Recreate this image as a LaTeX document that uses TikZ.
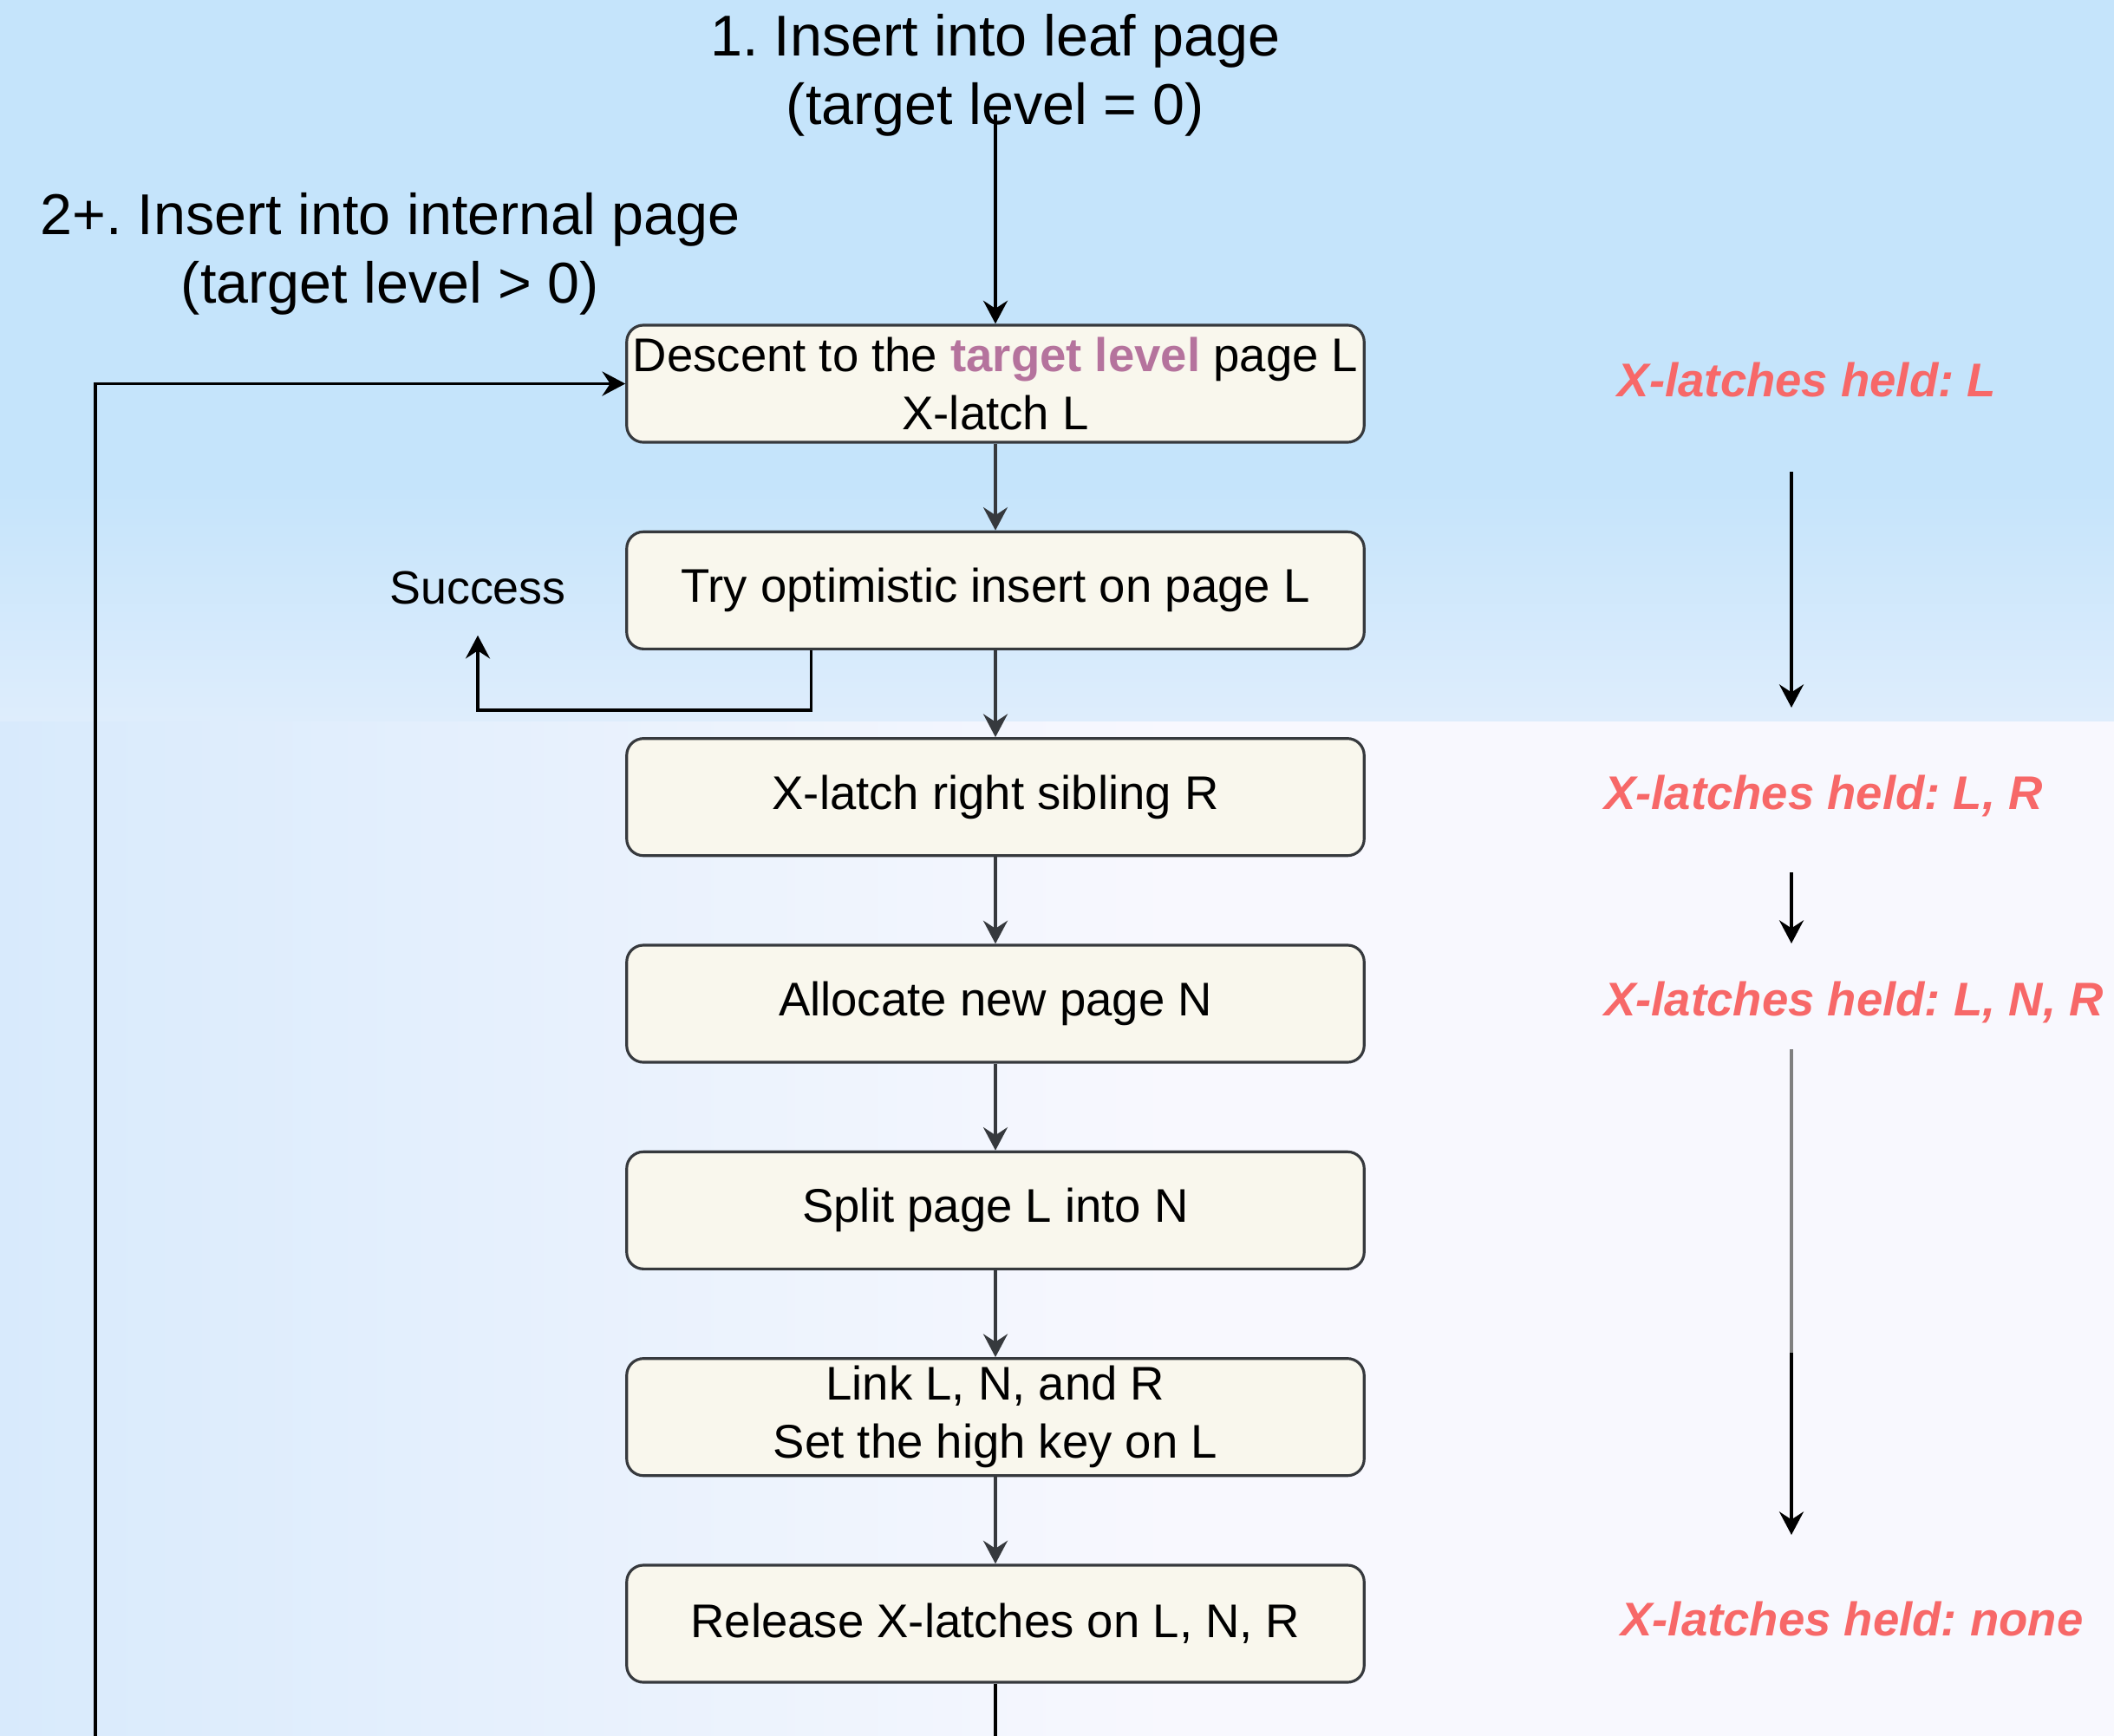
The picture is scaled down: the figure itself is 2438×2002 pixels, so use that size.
\documentclass[tikz,border=0pt]{standalone}
\usepackage{fontspec}
\setmainfont{Liberation Sans}
\usetikzlibrary{arrows.meta,calc}
\frenchspacing

\definecolor{bgblue}{RGB}{197,228,251}
\definecolor{bgfade}{RGB}{222,237,252}
\definecolor{bgleft}{RGB}{216,234,252}
\definecolor{bgpale}{RGB}{248,248,254}
\definecolor{boxfill}{HTML}{F9F7ED}
\definecolor{boxline}{HTML}{36393D}
\definecolor{latchred}{HTML}{F76868}
\definecolor{levelpurple}{HTML}{B5739D}

\begin{document}
\begin{tikzpicture}[x=0.01cm, y=-0.01cm,
  stepbox/.style={draw=boxline, line width=0.9pt, fill=boxfill,
    rounded corners=5.5pt, minimum width=8.5cm, minimum height=1.35cm,
    inner sep=0pt, align=center, font=\fontsize{15.5}{19}\selectfont},
  heading/.style={align=center, inner sep=0pt,
    font=\fontsize{18.9}{22.4}\selectfont},
  plain/.style={inner sep=0pt, font=\fontsize{15.3}{19}\selectfont},
  latch/.style={inner sep=0pt, text=latchred,
    font=\fontsize{15.5}{19}\selectfont\bfseries\itshape},
  tip/.style={-{Stealth[length=7.6pt, width=8pt, inset=2.6pt]}},
  flow/.style={tip, draw=boxline, line width=0.9pt},
  wire/.style={tip, draw=black, line width=0.9pt},
]
% page background
\useasboundingbox (0,0) rectangle (2438,2002);
\fill[bgpale] (0,0) rectangle (2438,2002);
\shade[left color=bgleft, right color=bgpale] (0,830) rectangle (1350,2002);
\fill[bgblue] (0,0) rectangle (2438,560);
\shade[top color=bgblue, bottom color=bgfade] (0,559) rectangle (2438,831);

% entry points
\node[heading] (leaf) at (1148,87) {1. Insert into leaf page\\(target level = 0)};
\node[heading] (internal) at (450,293) {2+. Insert into internal page\\(target level > 0)};

% split steps
\node[stepbox] (b1) at (1148,442.5) {Descent to the \textcolor{levelpurple}{\bfseries target level} page L\\X-latch L};
\node[stepbox] (b2) at (1148,680.8) {Try optimistic insert on page L};
\node[stepbox] (b3) at (1148,919.2) {X-latch right sibling R};
\node[stepbox] (b4) at (1148,1157.5) {Allocate new page N};
\node[stepbox] (b5) at (1148,1395.8) {Split page L into N};
\node[stepbox] (b6) at (1148,1634.2) {Link L, N, and R\\Set the high key on L};
\node[stepbox] (b7) at (1148,1872.5) {Release X-latches on L, N, R};

\node[plain] (succ) at (551,678) {Success};

% latches held along the way
\node[latch] (hL) at (2084,438) {X-latches held: L};
\node[latch] (hLR) at (2103,918) {X-latches held: L, R};
\node[latch] (hLNR) at (2138,1156) {X-latches held: L, N, R};
\node[latch] (hnone) at (2136,1867) {X-latches held: none};

% main flow
\coordinate (entry) at (1148,132);
\draw[wire] (entry) -- (b1.north);
\draw[flow] (b1) -- (b2);
\draw[flow] (b2) -- (b3);
\draw[flow] (b3) -- (b4);
\draw[flow] (b4) -- (b5);
\draw[flow] (b5) -- (b6);
\draw[flow] (b6) -- (b7);
\coordinate (exitfoot) at (1148,2002);
\draw[draw=black, line width=0.9pt] (b7.south) -- (exitfoot);

% early exit on a successful optimistic insert
\draw[wire] ([xshift=-2.12cm]b2.south) -- ++(0,69) -| ($(succ.south)+(0,35)$);

% retry one level up
\coordinate (loopfoot) at (110,2002);
\draw[wire] (loopfoot) |- (b1.west);

% latch timeline
\coordinate (t1a) at (2066,544);
\coordinate (t1b) at (2066,816);
\coordinate (t2a) at (2066,1006);
\coordinate (t2b) at (2066,1088);
\coordinate (t3a) at (2066,1210);
\coordinate (t3m) at (2066,1560);
\coordinate (t3b) at (2066,1770);
\draw[wire] (t1a) -- (t1b);
\draw[wire] (t2a) -- (t2b);
\draw[wire] (t3a) -- (t3b);
\draw[draw=black!50, line width=1.1pt] (t3a) -- (t3m);
\end{tikzpicture}
\end{document}
